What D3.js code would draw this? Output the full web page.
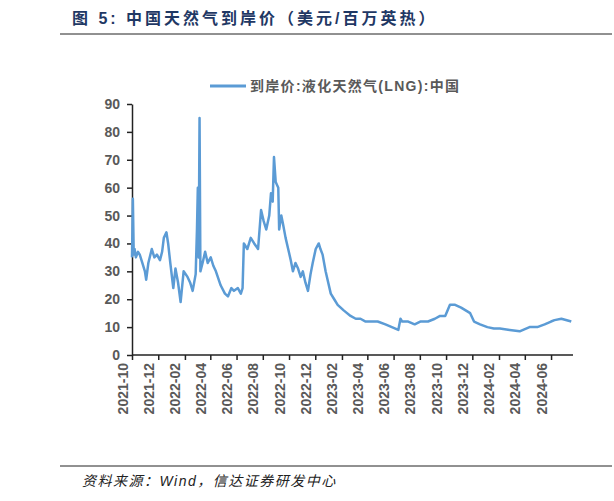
<!DOCTYPE html><html><head><meta charset="utf-8"><script src="https://cdn.jsdelivr.net/npm/d3@7"></script>
<style>body{margin:0;background:#fff}svg{font-family:"Liberation Sans","Noto Sans CJK SC",sans-serif}</style></head><body>
<svg id="c" width="614" height="501"></svg>
<script>
const dates=["2021-10-01","2021-10-03","2021-10-05","2021-10-07","2021-10-10","2021-10-15","2021-10-19","2021-10-25","2021-10-31","2021-11-03","2021-11-08","2021-11-16","2021-11-22","2021-11-28","2021-12-05","2021-12-10","2021-12-14","2021-12-20","2021-12-24","2021-12-29","2022-01-05","2022-01-10","2022-01-16","2022-01-22","2022-01-29","2022-02-07","2022-02-13","2022-02-19","2022-02-26","2022-03-01","2022-03-03","2022-03-05","2022-03-07","2022-03-09","2022-03-14","2022-03-20","2022-03-26","2022-04-02","2022-04-08","2022-04-14","2022-04-25","2022-05-05","2022-05-12","2022-05-20","2022-05-26","2022-06-04","2022-06-11","2022-06-15","2022-06-18","2022-06-26","2022-07-04","2022-07-12","2022-07-21","2022-07-28","2022-08-03","2022-08-09","2022-08-16","2022-08-20","2022-08-24","2022-08-27","2022-08-31","2022-09-06","2022-09-08","2022-09-13","2022-09-17","2022-09-23","2022-09-29","2022-10-05","2022-10-10","2022-10-16","2022-10-22","2022-10-28","2022-11-02","2022-11-08","2022-11-14","2022-11-20","2022-11-25","2022-12-02","2022-12-09","2022-12-13","2022-12-18","2022-12-25","2023-01-06","2023-01-14","2023-01-22","2023-02-05","2023-02-21","2023-03-05","2023-03-16","2023-03-28","2023-04-09","2023-04-25","2023-05-13","2023-05-28","2023-06-12","2023-06-17","2023-06-21","2023-07-05","2023-07-20","2023-08-02","2023-08-20","2023-09-05","2023-09-17","2023-09-29","2023-10-10","2023-10-22","2023-11-05","2023-11-26","2023-12-05","2023-12-19","2024-01-05","2024-01-20","2024-02-03","2024-02-26","2024-03-20","2024-04-12","2024-04-30","2024-05-17","2024-06-01","2024-06-09","2024-06-25","2024-07-18"];
const values=[35,56,36,38,35,37,36,33,30,27,33,38,35,36,34,37,42,44,40,33,24,31,26,19,30,28,26,23,29,45,60,35,85,30,33,37,33,35,32,30,25,22,21,24,23,24,22,24,40,38,42,40,38,52,48,45,50,58,55,71,62,60,45,50,47,42,38,34,30,33,31,28,30,26,23,29,33,38,40,38,36,30,22,20,18,16,14,13,13,12,12,12,11,10,9,13,12,12,11,12,12,13,14,14,18,18,17,15,12,11,10,9.5,9.5,9,8.5,10,10,11,12,12.5,13,12];
const yTicks=[0,10,20,30,40,50,60,70,80,90];
const xTickLabels=["2021-10","2021-12","2022-02","2022-04","2022-06","2022-08","2022-10","2022-12","2023-02","2023-04","2023-06","2023-08","2023-10","2023-12","2024-02","2024-04","2024-06"];
const title="图 5:  中国天然气到岸价（美元/百万英热）";
const legendLabel="到岸价:液化天然气(LNG):中国";
const source="资料来源：Wind，信达证券研发中心";

const svg=d3.select("#c"),p=d3.timeParse("%Y-%m-%d");
const L=132,R=573,T=104,B=355;
const x=d3.scaleTime().domain([p("2021-10-01"),p("2024-07-22")]).range([L,R]);
const y=d3.scaleLinear().domain([0,90]).range([B,T]);
svg.append("text").attr("x",72).attr("y",24).attr("font-size",16).attr("letter-spacing",3).attr("font-weight","bold").attr("fill","#1f3864").text(title);
svg.append("line").attr("x1",60).attr("x2",612).attr("y1",34).attr("y2",34).attr("stroke","#222").attr("stroke-width",1);
const lg=svg.append("g");
lg.append("line").attr("x1",210).attr("x2",246).attr("y1",86).attr("y2",86).attr("stroke","#5b9bd5").attr("stroke-width",3);
lg.append("text").attr("x",250).attr("y",91).attr("font-size",14).attr("letter-spacing",1.3).attr("font-weight","bold").attr("fill","#595959").text(legendLabel);
const ya=svg.append("g").attr("transform",`translate(${L},0)`).call(d3.axisLeft(y).tickValues(yTicks).tickSize(5).tickSizeOuter(0));
ya.selectAll("text").attr("font-size",14).attr("font-weight","bold").attr("fill","#595959").attr("dx",-4);
const xa=svg.append("g").attr("transform",`translate(0,${B})`).call(d3.axisBottom(x).tickValues(xTickLabels.map(s=>p(s+"-01"))).tickFormat(d3.timeFormat("%Y-%m")).tickSize(5).tickSizeOuter(0));
xa.selectAll("text").attr("font-size",14).attr("font-weight","bold").attr("fill","#595959").attr("transform","rotate(-90)").attr("text-anchor","end").attr("dx",-8).attr("dy",-5).attr("y",0).attr("x",0);
svg.selectAll(".domain,.tick line").attr("stroke","#222").attr("stroke-width",1.5);
xa.select(".domain").attr("d",`M${L},0H${R}`);
svg.append("path").datum(dates.map((d,i)=>[p(d),values[i]])).attr("fill","none").attr("stroke","#5b9bd5").attr("stroke-width",2.5).attr("stroke-linejoin","round")
 .attr("d",d3.line().x(d=>x(d[0])).y(d=>y(d[1])));
svg.append("line").attr("x1",60).attr("x2",612).attr("y1",466).attr("y2",466).attr("stroke","#222");
svg.append("text").attr("x",82).attr("y",486).attr("font-size",14).attr("letter-spacing",1.5).attr("font-style","italic").attr("fill","#222").text(source);
</script></body></html>
